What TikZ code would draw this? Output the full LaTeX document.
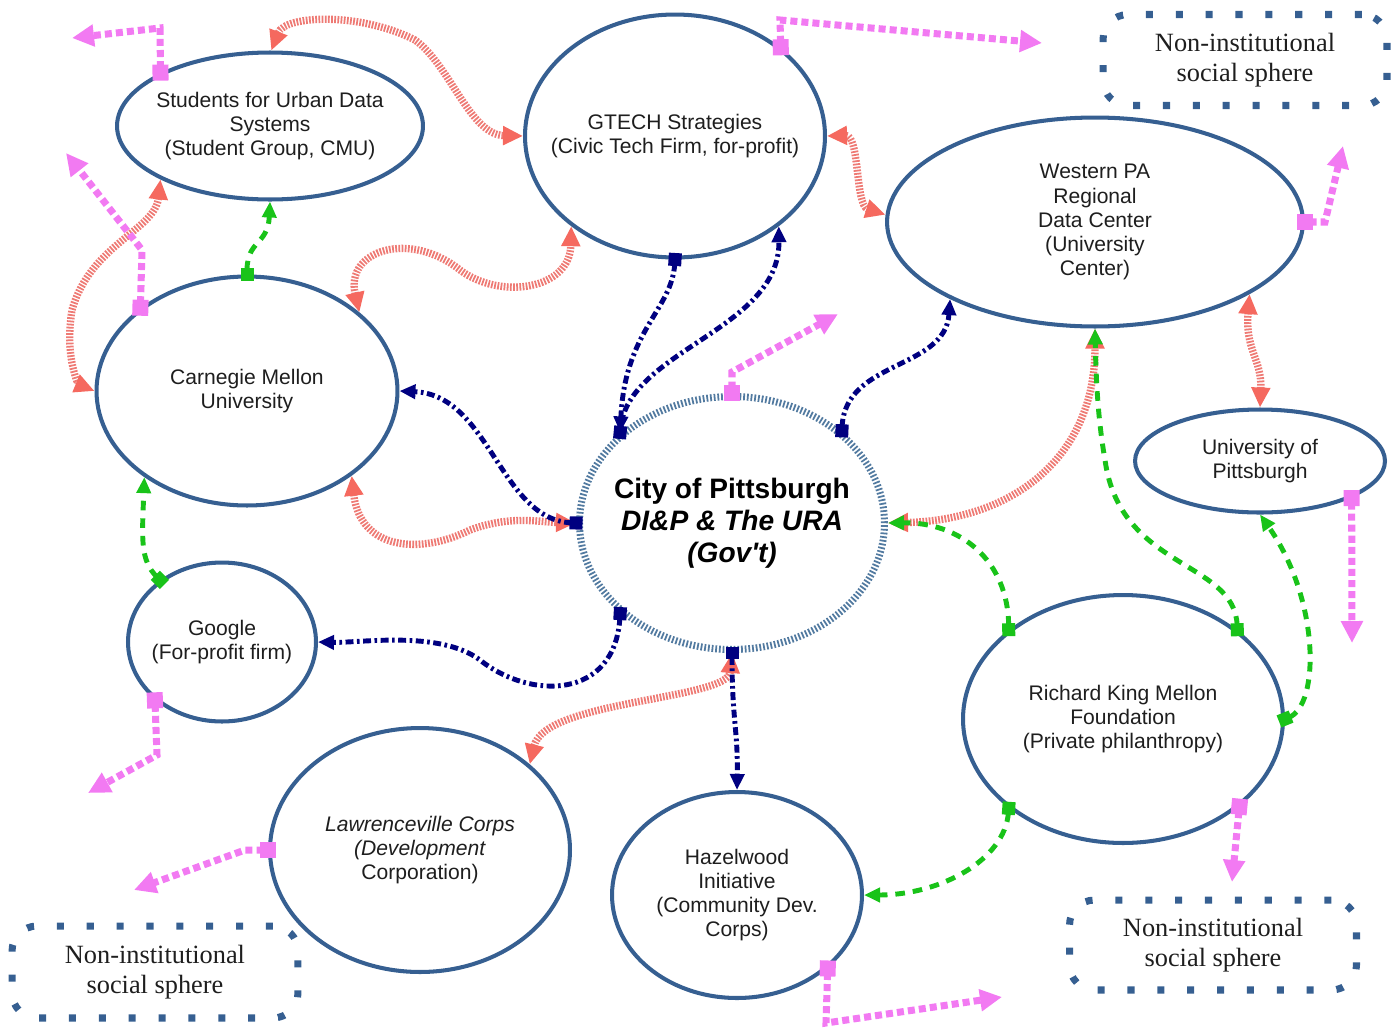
\documentclass[tikz,border=0pt]{standalone}
\usepackage{fontspec}
\setmainfont{Liberation Sans}
\newfontfamily\socfont{Liberation Serif}
\usepackage{xcolor}
\definecolor{orgblue}{RGB}{54,95,145}
\definecolor{govblue}{RGB}{82,122,160}
\definecolor{ink}{RGB}{30,30,30}
\definecolor{salmon}{RGB}{238,122,116}
\definecolor{salmontip}{RGB}{245,105,95}
\definecolor{deepnavy}{RGB}{0,0,128}
\definecolor{leaf}{RGB}{25,195,25}
\definecolor{orchid}{RGB}{242,122,242}
\usepackage{tikz}
\usetikzlibrary{arrows.meta,shapes.geometric}

\begin{document}
\begin{tikzpicture}[x=0.02cm,y=-0.02cm,
  org/.style={ellipse,draw=orgblue,line width=2.3pt,text=ink,
              font=\fontsize{12}{13.7}\selectfont,align=center,inner xsep=-40pt},
  gov/.style={ellipse,draw=govblue,line width=4pt,dash pattern=on 1pt off 1.1pt,
              text=black,font=\fontsize{16}{18.2}\selectfont\bfseries,align=center,
              inner xsep=-40pt,minimum width=6.1cm,minimum height=5.06cm},
  sphere/.style={rectangle,rounded corners=0.5cm,draw=orgblue,line width=4pt,
              dash pattern=on 4pt off 13pt,text=ink,
              font=\socfont\fontsize{15}{17}\selectfont,align=center},
  %% connectors
  tie/.style={draw=salmon,line width=4.2pt,dash pattern=on 1pt off 0.8pt,
              {Triangle[length=0.4cm,width=0.36cm,color=salmontip]}-{Triangle[length=0.4cm,width=0.36cm,color=salmontip]}},
  flow/.style={draw=deepnavy,line width=2.8pt,
              dash pattern=on 4.5pt off 2pt on 1.5pt off 2pt,shorten <=-0.13cm,
              {Square[length=0.26cm,width=0.26cm]}-{Triangle[length=0.32cm,width=0.28cm]}},
  fund/.style={draw=leaf,line width=2.8pt,dash pattern=on 5.5pt off 4.5pt,
              shorten <=-0.13cm,
              {Square[length=0.26cm,width=0.26cm]}-{Triangle[length=0.32cm,width=0.28cm]}},
  reach/.style={draw=orchid,line width=4pt,dash pattern=on 4pt off 2.3pt,
              shorten <=-0.16cm,
              {Square[length=0.32cm,width=0.32cm]}-{Triangle[length=0.44cm,width=0.42cm]}},
]
  \useasboundingbox (0,0) rectangle (1395,1028);

  \node[org,minimum width=6.12cm,minimum height=2.94cm] (suds) at (270,126)
    {Students for Urban Data\\Systems\\(Student Group, CMU)};
  \node[org,minimum width=6cm,minimum height=4.86cm] (gtech) at (675,136)
    {GTECH Strategies\\(Civic Tech Firm, for-profit)};
  \node[org,minimum width=8.32cm,minimum height=4.18cm] (wprdc) at (1095,222)
    {Western PA\\Regional\\Data Center\\(University\\Center)};
  \node[org,minimum width=6.02cm,minimum height=4.58cm] (cmu) at (247,391)
    {Carnegie Mellon\\University};
  \node[gov] (city) at (732,523)
    {City of Pittsburgh\\\textit{DI\&P \& The URA}\\\textit{(Gov\textquotesingle t)}};
  \node[org,minimum width=5cm,minimum height=2.06cm] (pitt) at (1260,461)
    {University of\\Pittsburgh};
  \node[org,minimum width=3.76cm,minimum height=3.18cm] (google) at (222,642)
    {Google\\(For-profit firm)};
  \node[org,minimum width=6.4cm,minimum height=4.96cm] (rkmf) at (1123,719)
    {Richard King Mellon\\Foundation\\(Private philanthropy)};
  \node[org,minimum width=6cm,minimum height=4.88cm] (lville) at (420,850)
    {\textit{Lawrenceville Corps}\\\textit{(Development}\\Corporation)};
  \node[org,minimum width=5cm,minimum height=4.12cm] (hazel) at (737,895)
    {Hazelwood\\Initiative\\(Community Dev.\\Corps)};

  \node[sphere,minimum width=5.68cm,minimum height=1.82cm] (socTR) at (1245,60)
    {Non-institutional\\social sphere};
  \node[sphere,minimum width=5.72cm,minimum height=1.84cm] (socBL) at (155,972)
    {Non-institutional\\social sphere};
  \node[sphere,minimum width=5.74cm,minimum height=1.8cm] (socBR) at (1213,945)
    {Non-institutional\\social sphere};

  %% two-way ties
  \draw[tie] (suds.89) .. controls (285,15) and (360,12) .. (415,40)
             .. controls (450,65) and (470,135) .. (gtech.180);
  \draw[tie] (suds.206) .. controls (155,230) and (90,245) .. (72,310)
             .. controls (64,360) and (80,385) .. (cmu.180);
  \draw[tie] (cmu.35) .. controls (345,250) and (410,230) .. (460,270)
             .. controls (500,300) and (570,290) .. (gtech.221);
  \draw[tie] (gtech.0) .. controls (860,135) and (855,205) .. (wprdc.178);
  \draw[tie] (cmu.321) .. controls (360,550) and (420,555) .. (470,530)
             .. controls (510,515) and (540,522) .. (city.180);
  \draw[tie] (city.0) .. controls (1010,520) and (1095,460) .. (wprdc.270);
  \draw[tie] (city.270) .. controls (728,700) and (545,700) .. (lville.38);
  \draw[tie] (wprdc.335) .. controls (1245,350) and (1262,360) .. (pitt.90);

  %% government links
  \draw[flow] (gtech.270) .. controls (672,310) and (625,330) .. (city.141);
  \draw[flow] (city.141) .. controls (628,350) and (780,330) .. (gtech.319);
  \draw[flow] (city.40) .. controls (845,360) and (945,370) .. (wprdc.208);
  \draw[flow] (city.180) .. controls (500,520) and (490,395) .. (cmu.0);
  \draw[flow] (city.219) .. controls (615,700) and (530,700) .. (480,660)
              .. controls (440,630) and (360,643) .. (google.0);
  \draw[flow] (city.270) .. controls (732,720) and (738,730) .. (hazel.90);

  %% funding
  \draw[fund] (cmu.90) .. controls (247,240) and (268,245) .. (suds.270);
  \draw[fund] (google.135) .. controls (140,560) and (142,540) .. (cmu.220);
  \draw[fund] (rkmf.142) .. controls (1008,560) and (960,522) .. (city.0);
  \draw[fund] (rkmf.38) .. controls (1235,560) and (1120,570) .. (1105,460)
              .. controls (1098,420) and (1096,380) .. (wprdc.270);
  \draw[fund] (rkmf.0) .. controls (1320,705) and (1320,600) .. (pitt.270);
  \draw[fund] (rkmf.218) .. controls (1005,860) and (940,895) .. (hazel.0);

  %% outreach to the social sphere
  \coordinate (sudsOut) at (72,38);
  \coordinate (cmuOut) at (66,153);
  \coordinate (gtechOut) at (1042,43);
  \coordinate (cityOut) at (838,314);
  \coordinate (wprdcOut) at (1343,146);
  \coordinate (pittOut) at (1352,643);
  \coordinate (googleOut) at (88,793);
  \coordinate (lvilleOut) at (134,890);
  \coordinate (rkmfOut) at (1232,882);
  \coordinate (hazelOut) at (1002,997);

  \draw[reach] (suds.154) -- (160,28) -- (sudsOut);
  \draw[reach] (cmu.142) -- (142,250) -- (cmuOut);
  \draw[reach] (gtech.40) -- (780,20) -- (gtechOut);
  \draw[reach] (city.90) -- (732,372) -- (cityOut);
  \draw[reach] (wprdc.0) -- (1325,222) -- (wprdcOut);
  \draw[reach] (pitt.338) -- (pittOut);
  \draw[reach] (google.221) -- (157,755) -- (googleOut);
  \draw[reach] (lville.180) -- (245,850) -- (lvilleOut);
  \draw[reach] (rkmf.323) -- (rkmfOut);
  \draw[reach] (hazel.321) -- (826,1023) -- (hazelOut);

\end{tikzpicture}
\end{document}
